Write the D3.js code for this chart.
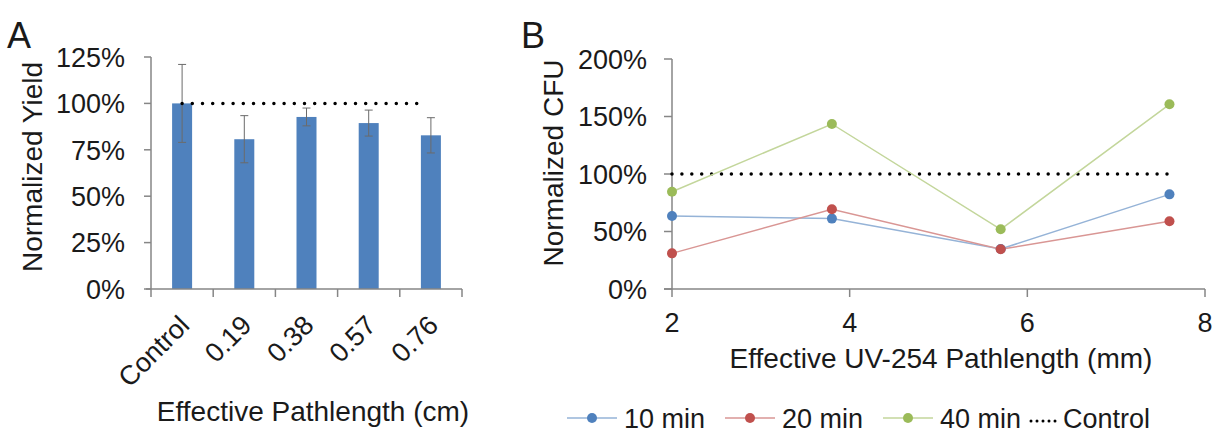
<!DOCTYPE html>
<html>
<head>
<meta charset="utf-8">
<script src="https://cdn.jsdelivr.net/npm/d3@7"></script>
<style>
  body { margin: 0; background: #fff; }
  svg text { font-family: "Liberation Sans", Arial, sans-serif; fill: #1a1a1a; }
</style>
</head>
<body>
<svg id="chart" width="1214" height="432"></svg>
<script>
// --- panel A : rendement normalisé ---
var catsA = ["Control", "0.19", "0.38", "0.57", "0.76"];
var yieldA = [100, 80.7, 92.7, 89.4, 82.8];
var errA = [21, 12.7, 4.8, 7, 9.5];
var ticksA = [0, 25, 50, 75, 100, 125];

// --- panel B : CFU normalisé ---
var pathB = [2, 3.8, 5.7, 7.6];
var cfu10 = [63.5, 61.2, 34.8, 82.3];
var cfu20 = [31, 69.3, 34.5, 58.9];
var cfu40 = [84.6, 143.5, 51.9, 160.6];
var ticksB = [0, 50, 100, 150, 200];
var ticksBx = [2, 4, 6, 8];
var seriesNames = ["10 min", "20 min", "40 min"];
var seriesColors = ["#4f81bd", "#c0504d", "#9bbb59"];
var lineColors = ["#95b3d7", "#d99694", "#c3d69b"];

var svg = d3.select("#chart");
var axisColor = "#868686";
var fsTick = 27;   // étiquettes des graduations
var fsTitle = 28;  // titres des axes

/* ================= PANEL A ================= */
var xA = d3.scaleBand().domain(catsA).range([151, 462]);
var yA = d3.scaleLinear().domain([0, 125]).range([289, 57]);

var gA = svg.append("g");

// axe y
gA.append("line").attr("x1", 151).attr("x2", 151).attr("y1", yA(125)).attr("y2", yA(0))
  .attr("stroke", axisColor).attr("stroke-width", 1.5);
gA.selectAll(".ytA").data(ticksA).enter().append("line")
  .attr("x1", 144).attr("x2", 151).attr("y1", d => yA(d)).attr("y2", d => yA(d))
  .attr("stroke", axisColor).attr("stroke-width", 1.5);
gA.selectAll(".ylA").data(ticksA).enter().append("text")
  .attr("x", 125).attr("y", d => yA(d)).attr("dy", "0.36em")
  .attr("text-anchor", "end").attr("font-size", fsTick).text(d => d + "%");

// barres
gA.selectAll(".bar").data(yieldA).enter().append("rect")
  .attr("x", (d, i) => xA(catsA[i]) + xA.bandwidth() / 2 - 10)
  .attr("width", 20)
  .attr("y", d => yA(d)).attr("height", d => yA(0) - yA(d))
  .attr("fill", "#4f81bd");

// barres d'erreur
yieldA.forEach(function(v, i) {
  var cx = xA(catsA[i]) + xA.bandwidth() / 2;
  var e = errA[i];
  gA.append("line").attr("x1", cx).attr("x2", cx).attr("y1", yA(v + e)).attr("y2", yA(v - e))
    .attr("stroke", "#6b6b6b").attr("stroke-width", 1);
  [v + e, v - e].forEach(function(t) {
    gA.append("line").attr("x1", cx - 4).attr("x2", cx + 4).attr("y1", yA(t)).attr("y2", yA(t))
      .attr("stroke", "#6b6b6b").attr("stroke-width", 1);
  });
});

// ligne témoin pointillée
gA.append("line")
  .attr("x1", xA("Control") + xA.bandwidth() / 2)
  .attr("x2", xA("0.76") + xA.bandwidth() / 2 - 6)
  .attr("y1", yA(100)).attr("y2", yA(100))
  .attr("stroke", "#000").attr("stroke-width", 3.5)
  .attr("stroke-linecap", "round").attr("stroke-dasharray", "0,10.2");

// axe x
gA.append("line").attr("x1", 146).attr("x2", 462).attr("y1", yA(0)).attr("y2", yA(0))
  .attr("stroke", axisColor).attr("stroke-width", 1.5);
var bounds = catsA.map(c => xA(c)).concat([462]);
gA.selectAll(".xtA").data(bounds).enter().append("line")
  .attr("x1", d => d).attr("x2", d => d).attr("y1", yA(0)).attr("y2", yA(0) + 8)
  .attr("stroke", axisColor).attr("stroke-width", 1.5);
gA.selectAll(".xlA").data(catsA).enter().append("text")
  .attr("transform", d => "translate(" + (xA(d) + xA.bandwidth() / 2 + 2) + "," + 320 + ") rotate(-45)")
  .attr("text-anchor", "end").attr("dy", "0.36em").attr("font-size", fsTick).text(d => d);

// titres
gA.append("text").attr("transform", "translate(42,167) rotate(-90)")
  .attr("text-anchor", "middle").attr("font-size", fsTitle).text("Normalized Yield");
gA.append("text").attr("x", 313).attr("y", 421).attr("text-anchor", "middle")
  .attr("font-size", fsTitle).text("Effective Pathlength (cm)");
gA.append("text").attr("x", 7).attr("y", 48).attr("font-size", 36).text("A");

/* ================= PANEL B ================= */
var xB = d3.scaleLinear().domain([2, 8]).range([672, 1205]);
var yB = d3.scaleLinear().domain([0, 200]).range([289, 59]);
var gB = svg.append("g");

gB.append("line").attr("x1", 672).attr("x2", 672).attr("y1", yB(200)).attr("y2", yB(0))
  .attr("stroke", axisColor).attr("stroke-width", 1.5);
gB.selectAll(".ytB").data(ticksB).enter().append("line")
  .attr("x1", 664).attr("x2", 672).attr("y1", d => yB(d)).attr("y2", d => yB(d))
  .attr("stroke", axisColor).attr("stroke-width", 1.5);
gB.selectAll(".ylB").data(ticksB).enter().append("text")
  .attr("x", 647).attr("y", d => yB(d)).attr("dy", "0.36em")
  .attr("text-anchor", "end").attr("font-size", fsTick).text(d => d + "%");

gB.append("line").attr("x1", 664).attr("x2", 1205).attr("y1", yB(0)).attr("y2", yB(0))
  .attr("stroke", axisColor).attr("stroke-width", 1.5);
gB.selectAll(".xtB").data(ticksBx).enter().append("line")
  .attr("x1", d => xB(d)).attr("x2", d => xB(d)).attr("y1", yB(0)).attr("y2", yB(0) + 8)
  .attr("stroke", axisColor).attr("stroke-width", 1.5);
gB.selectAll(".xlB").data(ticksBx).enter().append("text")
  .attr("x", d => xB(d)).attr("y", 332).attr("text-anchor", "middle")
  .attr("font-size", fsTick).text(d => d);

// témoin
gB.append("line").attr("x1", xB(pathB[0])).attr("x2", xB(pathB[3]))
  .attr("y1", yB(100)).attr("y2", yB(100))
  .attr("stroke", "#000").attr("stroke-width", 3.5)
  .attr("stroke-linecap", "round").attr("stroke-dasharray", "0,9.9");

var line = d3.line().x((d, i) => xB(pathB[i])).y(d => yB(d));
[cfu10, cfu20, cfu40].forEach(function(s, k) {
  gB.append("path").datum(s).attr("d", line).attr("fill", "none")
    .attr("stroke", lineColors[k]).attr("stroke-width", 1.5);
});
[cfu10, cfu20, cfu40].forEach(function(s, k) {
  gB.selectAll(".pt" + k).data(s).enter().append("circle")
    .attr("cx", (d, i) => xB(pathB[i])).attr("cy", d => yB(d)).attr("r", 5)
    .attr("fill", seriesColors[k]);
});

gB.append("text").attr("transform", "translate(563,163) rotate(-90)")
  .attr("text-anchor", "middle").attr("font-size", fsTitle).text("Normalized CFU");
gB.append("text").attr("x", 941).attr("y", 368).attr("text-anchor", "middle")
  .attr("font-size", fsTitle).text("Effective UV-254 Pathlength (mm)");
gB.append("text").attr("x", 521).attr("y", 48).attr("font-size", 36).text("B");

// légende
var legX = [567, 725, 883];
var legY = 418;
seriesNames.forEach(function(n, k) {
  var lg = gB.append("g").attr("transform", "translate(" + legX[k] + "," + legY + ")");
  lg.append("line").attr("x1", 0).attr("x2", 50).attr("stroke", lineColors[k]).attr("stroke-width", 1.5);
  lg.append("circle").attr("cx", 25).attr("r", 5).attr("fill", seriesColors[k]);
  lg.append("text").attr("x", 57).attr("y", 9.5).attr("font-size", fsTick).text(n);
});
var lc = gB.append("g").attr("transform", "translate(1031," + legY + ")");
lc.append("line").attr("x1", 0).attr("x2", 30).attr("y1", 3).attr("y2", 3)
  .attr("stroke", "#000").attr("stroke-width", 3)
  .attr("stroke-linecap", "round").attr("stroke-dasharray", "0,6");
lc.append("text").attr("x", 32).attr("y", 9.5).attr("font-size", fsTick).text("Control");
</script>
</body>
</html>
